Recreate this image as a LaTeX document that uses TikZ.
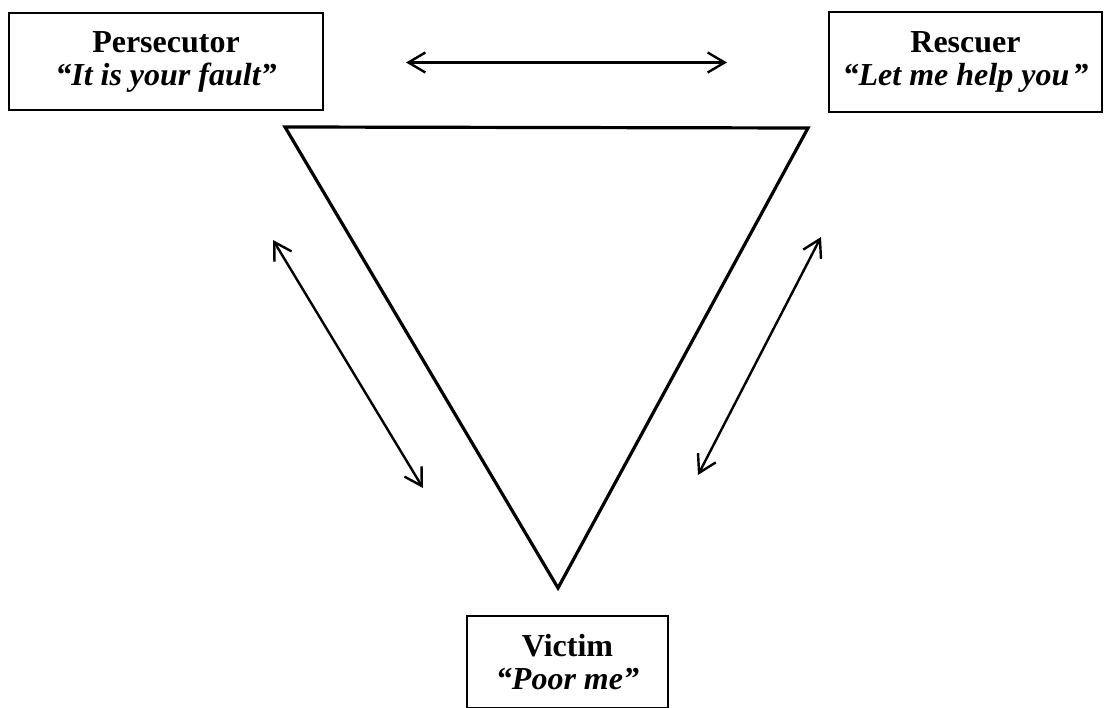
\documentclass[tikz,border=0pt]{standalone}
\usepackage{fontspec}
\setmainfont{Liberation Serif}
\usetikzlibrary{arrows.meta}
\begin{document}
\begin{tikzpicture}[x=1pt,y=-1pt,
  rolebox/.style={draw=black, line width=2pt, align=center, inner sep=0pt,
    font=\fontsize{32}{33}\selectfont},
  tri/.style={line width=3.2pt, line join=miter},
  dbl/.style={line width=2.4pt, {Straight Barb[length=17pt,width=20pt,line width=2.4pt]}-{Straight Barb[length=17pt,width=20pt,line width=2.4pt]}}]
\useasboundingbox (0,0) rectangle (1104,708);
\node[rolebox, minimum width=314, minimum height=97] (pers) at (166,61.5)
  {\textbf{Persecutor}\\\textbf{\textit{“It is your fault”}}};
\node[rolebox, minimum width=273, minimum height=100] (resc) at (965.5,62)
  {\textbf{Rescuer}\\\textbf{\textit{“Let me help you\kern3pt”}}};
\node[rolebox, anchor=north, minimum width=201, minimum height=92] (vict) at (567.5,615)
  {\textbf{Victim}\\\textbf{\textit{“Poor me”}}};
\draw[draw=black, line width=2pt] (467,615) -- (467,720);
\coordinate (tl) at (285,127);
\coordinate (tr) at (808,128);
\coordinate (bt) at (558,588);
\draw[tri] (tl) -- (tr) -- (bt) -- cycle;
\coordinate (a1) at (406,62.5);
\coordinate (a2) at (727,62.5);
\coordinate (b1) at (273,240);
\coordinate (b2) at (423,488);
\coordinate (c1) at (821,237);
\coordinate (c2) at (698,475);
\draw[dbl] (a1) -- (a2);
\draw[dbl] (b1) -- (b2);
\draw[dbl] (c1) -- (c2);
\end{tikzpicture}
\end{document}
